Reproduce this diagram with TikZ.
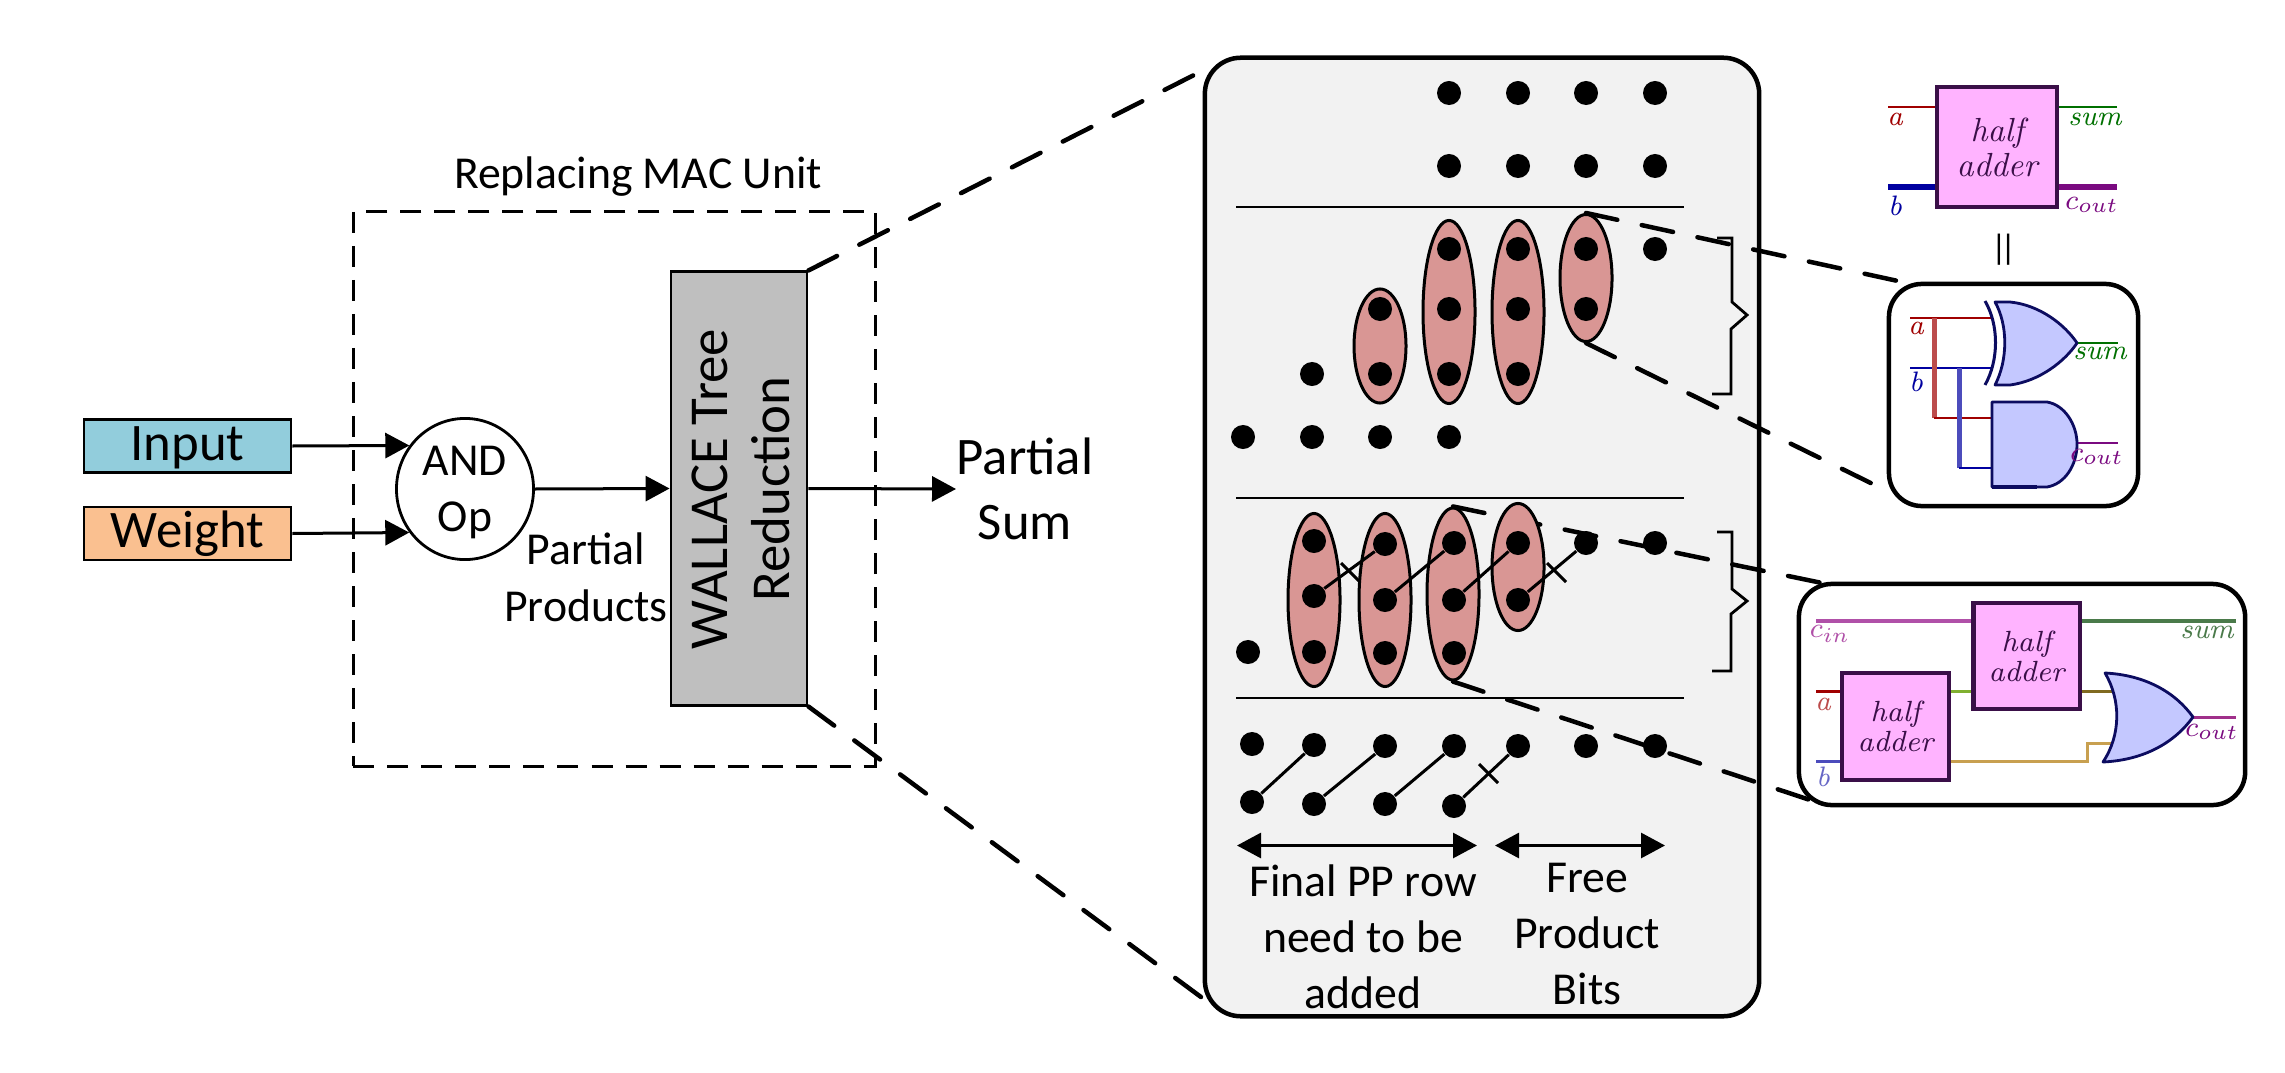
\documentclass[tikz,border=0pt]{standalone}
\usepackage{fontspec}
\usetikzlibrary{arrows.meta,shapes.geometric}
\newfontfamily\calibriFont{Carlito}
\definecolor{inputFill}{HTML}{92CDDC}
\definecolor{weightFill}{HTML}{FAC090}
\definecolor{treeFill}{HTML}{BFBFBF}
\definecolor{panelFill}{HTML}{F2F2F2}
\definecolor{ovalFill}{HTML}{D99694}
\definecolor{adderFill}{HTML}{FFB3FF}
\definecolor{adderLine}{HTML}{3A0F48}
\definecolor{gateFill}{HTML}{C4C8FF}
\definecolor{gateLine}{HTML}{0C0C60}
\definecolor{wireRed}{HTML}{A00000}
\definecolor{wireBlue}{HTML}{0000A0}
\definecolor{wireGreen}{HTML}{007000}
\definecolor{wirePurple}{HTML}{7A0A80}
\definecolor{wireCin}{HTML}{B050A8}
\definecolor{wireSum}{HTML}{4A7A4A}
\definecolor{wireLime}{HTML}{80B030}
\definecolor{wireOlive}{HTML}{806A20}
\definecolor{wireTan}{HTML}{C8A050}
\definecolor{wireCout}{HTML}{A0308A}

\begin{document}
\begin{tikzpicture}
[x=0.01cm,y=-0.01cm,
  textBig/.style={font=\calibriFont\fontsize{15}{18.5}\selectfont,inner sep=0pt,align=center},%
  textMid/.style={font=\calibriFont\fontsize{13}{15.9}\selectfont,inner sep=0pt,align=center},%
  blockDecorate/.style={shape=rectangle,draw,line width=.028cm,inner sep=0pt},%
  sourceDecorate/.style={blockDecorate,minimum width=2.07cm,minimum height=.53cm,text height=.33cm,text depth=.05cm,font=\calibriFont\fontsize{15}{17}\selectfont},%
  dotDecorate/.style={shape=circle,fill=black,inner sep=0pt,minimum size=.24cm},%
  ovalDecorate/.style={shape=ellipse,draw,fill=ovalFill,line width=.03cm,inner sep=0pt,minimum width=.52cm},%
  arrowDecorate/.style={-{Triangle[length=.24cm,width=.25cm]},line width=.03cm},%
  bothDecorate/.style={{Triangle[length=.24cm,width=.25cm]}-{Triangle[length=.24cm,width=.25cm]},line width=.03cm},%
  lineDecorate/.style={-,line width=.03cm},%
  ruleDecorate/.style={-,line width=.025cm},%
  zoomDecorate/.style={-,line width=.045cm,line cap=round,dash pattern=on .32cm off .25cm},%
  bubbleDecorate/.style={shape=rectangle,draw,fill=white,rounded corners=.33cm,line width=.045cm,inner sep=0pt},%
  adderDecorate/.style={shape=rectangle,draw=adderLine,fill=adderFill,line width=.04cm,inner sep=0pt,text=adderLine,align=center,font=\itshape\fontsize{9.5}{10}\selectfont},%
  pinText/.style={font=\itshape\fontsize{8}{9}\selectfont,inner sep=0pt},%
  gateDecorate/.style={draw=gateLine,fill=gateFill,line width=.028cm,line join=round}]
\useasboundingbox (0,0) rectangle (2285,1073);

%% left part
\node (input) at (187.5,446) [sourceDecorate,fill=inputFill] {Input};
\node (weight) at (187.5,533.5) [sourceDecorate,fill=weightFill] {Weight};
\node (andOp) at (465,489) [shape=ellipse,draw,line width=.028cm,inner sep=0pt,minimum width=1.37cm,minimum height=1.4cm,textMid] {\rule{0pt}{.365cm}AND\\Op};
\node (wallace) at (739,488.5) [blockDecorate,fill=treeFill,minimum width=1.36cm,minimum height=4.33cm] {};
\node (wallaceText) at (741,489) [rotate=90,font=\calibriFont\fontsize{15.6}{17.6}\selectfont,inner sep=0pt,align=center] {WALLACE Tree\\Reduction};
\node (macBox) at (614.5,489) [draw,dashed,line width=.028cm,dash pattern=on .21cm off .13cm,minimum width=5.22cm,minimum height=5.54cm,inner sep=0pt] {};
\node (macText) at (638,177) [textMid] {Replacing MAC Unit};
\node (ppText) at (586,577) [textMid,font=\calibriFont\fontsize{13}{16.2}\selectfont] {Partial\\Products};
\node (sumText) at (1025,489) [textBig] {Partial\\Sum};

\draw[arrowDecorate] (input.east) -- (andOp.142);
\draw[arrowDecorate] (weight.east) -- (andOp.218);
\draw[arrowDecorate] (andOp.east) -- (wallace.west);
\draw[arrowDecorate] (wallace.east) -- (sumText.west);

%% panel with the dot rows
\node (panel) at (1482,537) [shape=rectangle,draw,fill=panelFill,rounded corners=.36cm,line width=.045cm,inner sep=0pt,minimum width=5.54cm,minimum height=9.58cm] {};
\foreach \y in {207,498,698}
{
  \draw[ruleDecorate] (1236,\y) -- (1684,\y);
}

%% ovals
\foreach \nodename/\x/\y/\h in {ovalA/1380/346/1.14, ovalB/1449/312/1.83, ovalC/1518/312/1.83, ovalD/1586/278/1.27,
  ovalE/1314/600/1.73, ovalF/1385/600/1.73, ovalG/1453/594/1.72}
{
  \node (\nodename) at (\x,\y) [ovalDecorate,minimum height=\h cm] {};
}
%% this zoom line runs behind the last oval
\coordinate (bubbleBtop) at (1822,583);
\draw[zoomDecorate] (ovalG.north) -- (bubbleBtop);
\node (ovalH) at (1518,567) [ovalDecorate,minimum height=1.27cm] {};

%% dots
\foreach \x in {1449,1518,1586,1655}
{
  \node (a\x) at (\x,93) [dotDecorate] {};
  \node (b\x) at (\x,166) [dotDecorate] {};
  \node (c\x) at (\x,249) [dotDecorate] {};
}
\foreach \x in {1380,1449,1518,1586}
{
  \node (d\x) at (\x,309) [dotDecorate] {};
}
\foreach \x in {1312,1380,1449,1518}
{
  \node (e\x) at (\x,374) [dotDecorate] {};
}
\foreach \x in {1243,1312,1380,1449}
{
  \node (f\x) at (\x,437) [dotDecorate] {};
}
\foreach \nodename/\x/\y in {g1/1314/541, g2/1385/544, g3/1454/543, g4/1518/543, g5/1586/543, g6/1655/543,
  h1/1314/596, h2/1385/600, h3/1454/600, h4/1518/600,
  i0/1248/652, i1/1314/652, i2/1385/653, i3/1454/653,
  j0/1252/744, j1/1314/745, j2/1385/746, j3/1454/746, j4/1518/746, j5/1586/746, j6/1655/746,
  k0/1252/802, k1/1314/804, k2/1385/804, k3/1454/806}
{
  \node (\nodename) at (\x,\y) [dotDecorate] {};
}
\path
\foreach \startnode/\endnode in {h1/g2, h2/g3, h3/g4, h4/g5, k0/j1, k1/j2, k2/j3, k3/j4}
{
  (\startnode) edge[lineDecorate] (\endnode)
};
%% crossing ticks
\foreach \x/\y in {1341/563, 1547/563, 1479/764}
{
  \draw[lineDecorate] (\x,\y) -- ++(19,19);
}

%% arrows and labels under the rows
\coordinate (rowL) at (1237,845.5);
\coordinate (rowR) at (1477,845.5);
\coordinate (freeL) at (1495,845.5);
\coordinate (freeR) at (1665,845.5);
\draw[bothDecorate] (rowL) -- (rowR);
\draw[bothDecorate] (freeL) -- (freeR);
\node (rowText) at (1363,937) [textMid] {Final PP row\\need to be\\added};
\node (freeText) at (1587,934) [textMid] {Free\\Product\\Bits};

%% braces
\draw[line width=.028cm] (1717,238) -- (1732,238) -- (1732,302) -- (1747,315) -- (1731,329) -- (1731,394) -- (1712,394);
\draw[line width=.028cm] (1717,532) -- (1732,532) -- (1732,589) -- (1747,601) -- (1731,614) -- (1731,671) -- (1712,671);

%% zoom lines
\coordinate (panelTop) at (1198,73);
\coordinate (panelLow) at (1205,1000);
\coordinate (bubbleAtop) at (1907,283);
\coordinate (bubbleAlow) at (1889,492);
\coordinate (bubbleBlow) at (1810,800);
\draw[zoomDecorate] (wallace.north east) -- (panelTop);
\draw[zoomDecorate] (wallace.south east) -- (panelLow);
\draw[zoomDecorate] (ovalD.north) -- (bubbleAtop);
\draw[zoomDecorate] (ovalD.south) -- (bubbleAlow);
\draw[zoomDecorate] (ovalG.south) -- (bubbleBlow);

%% half adder symbol
\node (adderTop) at (1997,147) [adderDecorate,minimum size=1.2cm] {half\\adder};
\coordinate (pinA) at (1888,107);
\coordinate (pinB) at (1888,187);
\coordinate (pinS) at (2117,107);
\coordinate (pinC) at (2117,187);
\draw[wireRed,line width=.025cm] (pinA) -- (pinA -| adderTop.west);
\draw[wireBlue,line width=.05cm] (pinB) -- (pinB -| adderTop.west);
\draw[wireGreen,line width=.025cm] (pinS) -- (pinS -| adderTop.east);
\draw[wirePurple,line width=.05cm] (pinC) -- (pinC -| adderTop.east);
\node (aTop) at (1895,119) [pinText,text=wireRed] {a};
\node (bTop) at (1895,206) [pinText,text=wireBlue] {b};
\node (sTop) at (2095,119) [pinText,text=wireGreen] {sum};
\node (cTop) at (2092,205) [pinText,text=wirePurple] {$c_{out}$};
\node (equalSign) at (2003.5,250) [font=\calibriFont\fontsize{10}{12}\selectfont,inner sep=0pt] {|\kern-.07cm|};

%% half adder gates
\node (bubbleA) at (2013.5,395) [bubbleDecorate,minimum width=2.49cm,minimum height=2.22cm] {};
\coordinate (inA) at (1910,318);
\coordinate (inB) at (1910,368);
\coordinate (outS) at (2118,343);
\coordinate (outC) at (2118,443);
\draw[wireRed,line width=.02cm] (inA) -- (1992,318);
\draw[wireBlue,line width=.02cm] (inB) -- (1992,368);
\draw[wireRed!70!white,line width=.05cm] (1934,318) -- (1934,418);
\draw[wireRed,line width=.02cm] (1934,418) -- (1992,418);
\draw[wireBlue!70!white,line width=.05cm] (1959,368) -- (1959,468);
\draw[wireBlue,line width=.02cm] (1959,468) -- (1992,468);
\draw[wireGreen,line width=.02cm] (2077,343) -- (outS);
\draw[wirePurple,line width=.02cm] (2077,443) -- (outC);
\draw[gateDecorate] (1995,302) -- (2010,302) .. controls (2040,305) and (2065,325) .. (2077,343)
  .. controls (2065,361) and (2040,381) .. (2010,385) -- (1995,385) .. controls (2008,360) and (2008,325) .. cycle;
\draw[gateLine,line width=.03cm] (1985,301) .. controls (1999,325) and (1999,360) .. (1985,385);
\draw[gateDecorate] (1992,402) -- (2047,402) .. controls (2065,405) and (2077,425) .. (2077,444)
  .. controls (2077,465) and (2065,484) .. (2047,487) -- (1992,487) -- cycle;
\draw[gateLine,line width=.045cm] (1992,487) -- (2037,487);
\node (aGate) at (1916,328) [pinText,text=wireRed] {a};
\node (bGate) at (1916,382) [pinText,text=wireBlue] {b};
\node (sGate) at (2100,353) [pinText,text=wireGreen] {sum};
\node (cGate) at (2097,457) [pinText,text=wirePurple] {$c_{out}$};

%% full adder
\node (bubbleB) at (2022,694.5) [bubbleDecorate,minimum width=4.46cm,minimum height=2.21cm] {};
\node (adderSum) at (2026.5,656) [adderDecorate,minimum size=1.06cm,font=\itshape\fontsize{8.3}{8.6}\selectfont] {half\\adder};
\node (adderCarry) at (1895.5,726.5) [adderDecorate,minimum size=1.06cm,font=\itshape\fontsize{8.3}{8.6}\selectfont] {half\\adder};
\coordinate (pinCin) at (1816,621);
\coordinate (pinSum) at (2236,621);
\coordinate (pinAfull) at (1816,691);
\coordinate (pinBfull) at (1816,761);
\coordinate (pinCout) at (2236,717);
\coordinate (orTop) at (2112,691);
\coordinate (orLow) at (2113,743);
\draw[wireCin,line width=.035cm] (pinCin) -- (pinCin -| adderSum.west);
\draw[wireSum,line width=.035cm] (pinSum) -- (pinSum -| adderSum.east);
\draw[wireRed,line width=.03cm] (pinAfull) -- (pinAfull -| adderCarry.west);
\draw[wireBlue!70!white,line width=.03cm] (pinBfull) -- (pinBfull -| adderCarry.west);
\draw[wireLime,line width=.03cm] (adderCarry.east |- orTop) -- (adderSum.west |- orTop);
\draw[wireOlive,line width=.03cm] (adderSum.east |- orTop) -- (orTop);
\draw[wireTan,line width=.03cm] (adderCarry.east |- pinBfull) -- (2087,761) -- (2087,743) -- (orLow);
\draw[wireCout,line width=.03cm] (2193,717) -- (pinCout);
\draw[gateDecorate] (2105,673) .. controls (2145,675) and (2175,692) .. (2193,717)
  .. controls (2175,742) and (2145,760) .. (2103,762) .. controls (2121,735) and (2121,700) .. cycle;
\node (cinText) at (1830,634) [pinText,text=wireCin] {$c_{in}$};
\node (aFull) at (1823,704) [pinText,text=wireRed!70!white] {a};
\node (bFull) at (1823,777) [pinText,text=wireBlue!60!white] {b};
\node (sFull) at (2207,632) [pinText,text=wireSum] {sum};
\node (cFull) at (2212,732) [pinText,text=wirePurple] {$c_{out}$};
\end{tikzpicture}
\end{document}
